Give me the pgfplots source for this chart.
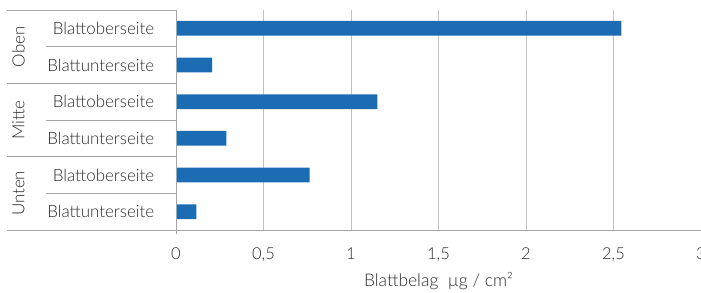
\documentclass[border=0pt]{standalone}
\usepackage{fontspec}
\setmainfont{Lato Light}
\usepackage{pgfplots}
\pgfplotsset{compat=1.18}
\definecolor{barblue}{HTML}{1C6CB4}
\definecolor{sepgray}{HTML}{A6A6A6}
\definecolor{gridgray}{HTML}{C0C0C0}
\definecolor{txt}{HTML}{2A2A2A}
\begin{document}
\begin{tikzpicture}[x=1bp,y=1bp]
\useasboundingbox (0,0) rectangle (701,292);
\begin{axis}[
  at={(176bp,62bp)}, anchor=south west,
  scale only axis, width=525bp, height=220bp,
  xmin=0, xmax=3, ymin=0.5, ymax=6.5,
  y dir=reverse,
  xbar, bar width=14.7bp,
  axis line style={draw=none}, tick style={draw=none},
  xtick={0,0.5,1,1.5,2,2.5,3},
  xticklabels={0,{0,5},1,{1,5},2,{2,5},3},
  xmajorgrids, grid style={gridgray, line width=1bp},
  ytick={1,2,3,4,5,6},
  yticklabels={Blattoberseite,Blattunterseite,Blattoberseite,Blattunterseite,Blattoberseite,Blattunterseite},
  tick label style={text=txt},
  xticklabel style={font=\fontsize{16.5}{19}\selectfont, yshift=-14bp},
  yticklabel style={font=\fontsize{17}{20}\selectfont, xshift=-14bp},
  clip=false,
]
\addplot[fill=barblue, draw=none] coordinates {(2.545,1) (0.207,2) (1.15,3) (0.288,4) (0.764,5) (0.116,6)};
% separators
\draw[sepgray, line width=1bp] ([xshift=-169bp]axis cs:0,0.5) -- (axis cs:0,0.5);
\draw[sepgray, line width=1bp] ([xshift=-130bp]axis cs:0,1.5) -- (axis cs:0,1.5);
\draw[sepgray, line width=1bp] ([xshift=-169bp]axis cs:0,2.5) -- (axis cs:0,2.5);
\draw[sepgray, line width=1bp] ([xshift=-130bp]axis cs:0,3.5) -- (axis cs:0,3.5);
\draw[sepgray, line width=1bp] ([xshift=-169bp]axis cs:0,4.5) -- (axis cs:0,4.5);
\draw[sepgray, line width=1bp] ([xshift=-130bp]axis cs:0,5.5) -- (axis cs:0,5.5);
\draw[sepgray, line width=1bp] ([xshift=-169bp]axis cs:0,6.5) -- (axis cs:3,6.5);
\draw[sepgray, line width=1bp] (axis cs:0,0.5) -- ([yshift=-4bp]axis cs:0,6.5);
% group labels
\node[rotate=90, text=txt, font=\fontsize{17}{20}\selectfont] at ([xshift=-157.5bp]axis cs:0,1.5) {Oben};
\node[rotate=90, text=txt, font=\fontsize{17}{20}\selectfont] at ([xshift=-157.5bp]axis cs:0,3.5) {Mitte};
\node[rotate=90, text=txt, font=\fontsize{17}{20}\selectfont] at ([xshift=-157.5bp]axis cs:0,5.5) {Unten};
\node[text=txt, font=\fontsize{17.5}{20}\selectfont] at ([yshift=-51bp]axis cs:1.5,6.5) {Blattbelag\ \ µg / cm²};
\end{axis}
\end{tikzpicture}
\end{document}
